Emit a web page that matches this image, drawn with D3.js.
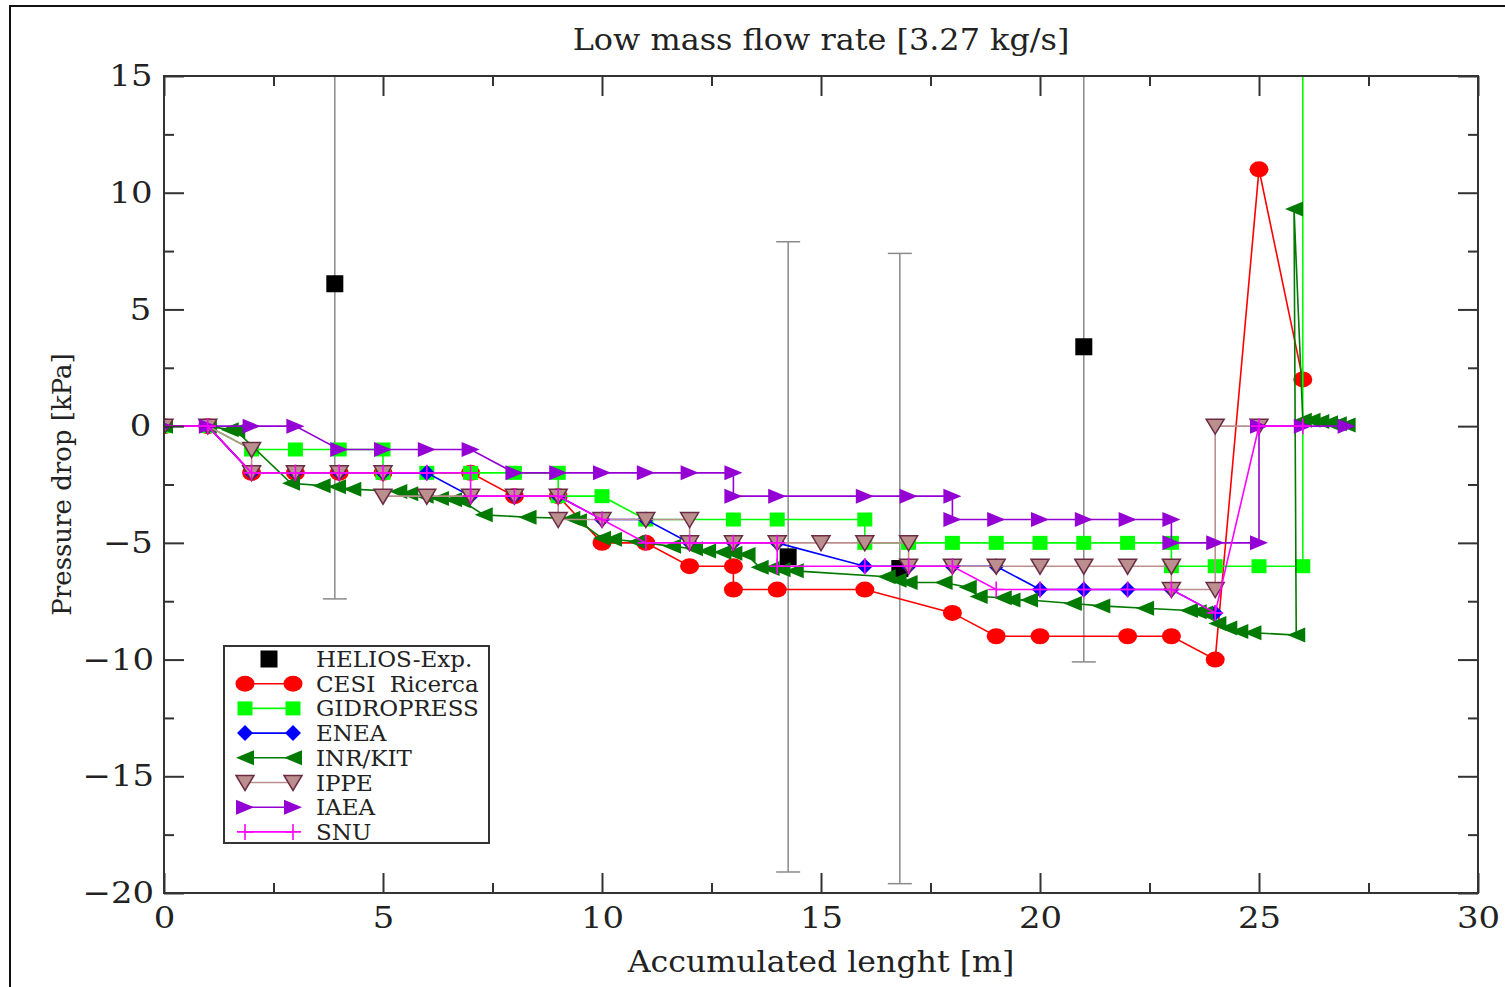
<!DOCTYPE html>
<meta charset="utf-8">
<title>Low mass flow rate</title>
<style>
  body { margin: 0; background: #fff; }
  text { font-family: "DejaVu Serif", serif; fill: #222; }
  .legend text { white-space: pre; }
</style>
<body>
<script src="https://cdn.jsdelivr.net/npm/d3@7"></script>
<script>
// experimental points and error bars
var heliosX = [3.9, 14.25, 16.8, 21.0];
var heliosY = [6.1, -5.6, -6.1, 3.4];
var heliosLow = [-7.4, -19.1, -19.6, -10.1];
var heliosHigh = [20, 7.9, 7.4, 20];

var cesi = [[0,0],[1,0],[2,-2],[3,-2],[4,-2],[5,-2],[7,-2],[8,-3],[9,-3],[10,-5],[11,-5],[12,-6],[13,-6],[13,-7],[14,-7],[16,-7],[18,-8],[19,-9],[20,-9],[22,-9],[23,-9],[24,-10],[25,11],[26,2]];

var gidropress = [[0,0],[1,0],[2,-1],[3,-1],[4,-1],[5,-1],[5,-2],[6,-2],[7,-2],[8,-2],[9,-2],[9,-3],[10,-3],[11,-4],[13,-4],[14,-4],[16,-4],[16,-5],[17,-5],[18,-5],[19,-5],[20,-5],[21,-5],[22,-5],[23,-5],[23,-6],[24,-6],[25,-6],[26,-6],[26,25]];

var enea = [[0,0],[1,0],[2,-2],[3,-2],[4,-2],[5,-2],[6,-2],[7,-3],[8,-3],[9,-3],[10,-4],[11,-4],[12,-5],[13,-5],[14,-5],[16,-6],[17,-6],[18,-6],[19,-6],[20,-7],[21,-7],[22,-7],[23,-7],[24,-8]];

var inrKit = [[0,0],[1,0],[1.5,-0.15],[1.65,-0.2],[2.9,-2.45],[3.6,-2.55],[3.95,-2.6],[4.3,-2.7],[5.35,-2.8],[5.6,-2.9],[5.95,-3.0],[6.3,-3.1],[6.6,-3.15],[6.8,-3.2],[7.3,-3.8],[8.3,-3.9],[9.3,-3.95],[9.45,-4.05],[10.0,-4.8],[10.25,-4.85],[10.8,-4.95],[11.6,-5.15],[12.1,-5.25],[12.4,-5.35],[12.75,-5.4],[13.0,-5.45],[13.3,-5.5],[13.6,-6.05],[13.85,-6.1],[14.1,-6.15],[14.4,-6.2],[16.5,-6.45],[16.75,-6.6],[17.0,-6.7],[17.8,-6.7],[18.35,-6.9],[18.6,-7.3],[19.15,-7.35],[19.35,-7.45],[19.75,-7.45],[20.75,-7.6],[21.4,-7.7],[22.4,-7.8],[23.4,-7.9],[23.6,-7.95],[23.75,-8.0],[24.05,-8.45],[24.3,-8.65],[24.55,-8.8],[24.85,-8.85],[25.85,-8.95],[25.8,9.3],[26.0,0.25],[26.2,0.25],[26.4,0.2],[26.6,0.15],[26.8,0.1],[27.0,0.05]];

var ippe = [[0,0],[1,0],[2,-1],[2,-2],[3,-2],[4,-2],[5,-2],[5,-3],[6,-3],[7,-3],[8,-3],[9,-3],[9,-4],[10,-4],[11,-4],[12,-4],[12,-5],[13,-5],[14,-5],[15,-5],[16,-5],[17,-5],[17,-6],[18,-6],[19,-6],[20,-6],[21,-6],[22,-6],[23,-6],[23,-7],[24,-7],[24,0],[25,0]];

var iaea = [[0,0],[1,0],[2,0],[3,0],[4,-1],[5,-1],[6,-1],[7,-1],[8,-2],[9,-2],[10,-2],[11,-2],[12,-2],[13,-2],[13,-3],[14,-3],[16,-3],[17,-3],[18,-3],[18,-4],[19,-4],[20,-4],[21,-4],[22,-4],[23,-4],[23,-5],[24,-5],[25,-5],[25,0],[26,0],[27,0]];

var snu = [[0,0],[1,0],[2,-2],[3,-2],[4,-2],[5,-2],[6,-2],[7,-2],[7,-3],[8,-3],[9,-3],[10,-4],[11,-5],[12,-5],[13,-5],[14,-5],[14,-6],[16,-6],[17,-6],[18,-6],[19,-7],[20,-7],[21,-7],[22,-7],[23,-7],[24,-8],[25,0],[26,0]];

var xTicks = [0, 5, 10, 15, 20, 25, 30];
var yTicks = [-20, -15, -10, -5, 0, 5, 10, 15];

var W = 1505, H = 987;
var pL = 164, pR = 1478, pT = 76, pB = 893;

var svg = d3.select("body").append("svg")
  .attr("width", W)
  .attr("height", H);

// outer frame of the figure
svg.append("path")
  .attr("d", "M10," + H + "V6H" + W)
  .attr("fill", "none")
  .attr("stroke", "#111")
  .attr("stroke-width", 2);

var x = d3.scaleLinear().domain([0, 30]).range([pL, pR]);
var y = d3.scaleLinear().domain([-20, 15]).range([pB, pT]);

svg.append("clipPath").attr("id", "plot")
  .append("rect")
  .attr("x", pL).attr("y", pT)
  .attr("width", pR - pL).attr("height", pB - pT);

// marker shapes
function circle(g, c) {
  g.append("ellipse").attr("rx", 9.5).attr("ry", 8).attr("fill", c);
}
function square(g, c) {
  g.append("rect").attr("x", -7.5).attr("y", -7).attr("width", 15).attr("height", 14).attr("fill", c);
}
function diamond(g, c) {
  g.append("path").attr("d", "M0,-8L8,0L0,8L-8,0Z").attr("fill", c);
}
function triLeft(g, c) {
  g.append("path").attr("d", "M-9,0L9,-7.5L9,7.5Z").attr("fill", c);
}
function triRight(g, c) {
  g.append("path").attr("d", "M9,0L-9,-7.5L-9,7.5Z").attr("fill", c);
}
function triDown(g, c) {
  g.append("path").attr("d", "M-9,-7L9,-7L0,8Z").attr("fill", c)
    .attr("stroke", "#6a2c44").attr("stroke-width", 1.5);
}
function plus(g, c) {
  g.append("path").attr("d", "M-8,0H8M0,-8V8").attr("stroke", c).attr("stroke-width", 1.6);
}
function blackSquare(g) {
  g.append("rect").attr("x", -8.5).attr("y", -8.5).attr("width", 17).attr("height", 17).attr("fill", "#000");
}

var series = [
  {name: "CESI  Ricerca", data: cesi, color: "#ff0000", mark: circle},
  {name: "GIDROPRESS", data: gidropress, color: "#00ff00", mark: square},
  {name: "ENEA", data: enea, color: "#0000ff", mark: diamond},
  {name: "INR/KIT", data: inrKit, color: "#007a00", mark: triLeft},
  {name: "IPPE", data: ippe, color: "#bc8f8f", mark: triDown},
  {name: "IAEA", data: iaea, color: "#9400d3", mark: triRight},
  {name: "SNU", data: snu, color: "#ff00ff", mark: plus}
];

var plot = svg.append("g").attr("clip-path", "url(#plot)");

// error bars of the experiment
heliosX.forEach(function(d, i) {
  var eb = plot.append("g").attr("stroke", "#8a8a8a").attr("stroke-width", 1.5);
  eb.append("line")
    .attr("x1", x(d)).attr("x2", x(d))
    .attr("y1", y(heliosLow[i])).attr("y2", y(heliosHigh[i]));
  [heliosLow[i], heliosHigh[i]].forEach(function(v) {
    eb.append("line")
      .attr("x1", x(d) - 12).attr("x2", x(d) + 12)
      .attr("y1", y(v)).attr("y2", y(v));
  });
});

heliosX.forEach(function(d, i) {
  var g = plot.append("g").attr("transform", "translate(" + x(d) + "," + y(heliosY[i]) + ")");
  blackSquare(g);
});

var line = d3.line()
  .x(function(d) { return x(d[0]); })
  .y(function(d) { return y(d[1]); });

series.forEach(function(s) {
  var g = plot.append("g");
  g.append("path")
    .attr("d", line(s.data))
    .attr("fill", "none")
    .attr("stroke", s.color)
    .attr("stroke-width", 1.6);
  s.data.forEach(function(p) {
    var m = g.append("g").attr("transform", "translate(" + x(p[0]) + "," + y(p[1]) + ")");
    s.mark(m, s.color);
  });
});

// axes with inward ticks
var fmt = d3.format("d");
function styleAxis(g) {
  g.select(".domain").remove();
  g.selectAll("line").attr("stroke", "#333").attr("stroke-width", 2);
  g.selectAll("text")
    .attr("font-family", "DejaVu Serif").attr("font-size", 30).attr("fill", "#222");
}
// the reference lettering is a bit wider than DejaVu Serif
function widen(g) {
  g.selectAll(".tick text").each(function() {
    var t = d3.select(this);
    var a = t.attr("text-anchor") || "middle";
    t.style("transform-box", "fill-box")
     .style("transform-origin", a === "end" ? "right center" : "center")
     .style("transform", "scaleX(1.13)");
  });
}

svg.append("g").attr("transform", "translate(0," + pB + ")")
  .call(d3.axisBottom(x).tickValues(xTicks).tickFormat(fmt).tickSizeInner(-20).tickSizeOuter(0).tickPadding(14))
  .call(styleAxis).call(widen);
svg.append("g").attr("transform", "translate(0," + pB + ")")
  .call(d3.axisBottom(x).tickValues(d3.range(2.5, 30, 5)).tickFormat("").tickSizeInner(-10).tickSizeOuter(0))
  .call(styleAxis);
svg.append("g").attr("transform", "translate(0," + pT + ")")
  .call(d3.axisTop(x).tickValues(xTicks).tickFormat("").tickSizeInner(-20).tickSizeOuter(0))
  .call(styleAxis);
svg.append("g").attr("transform", "translate(0," + pT + ")")
  .call(d3.axisTop(x).tickValues(d3.range(2.5, 30, 5)).tickFormat("").tickSizeInner(-10).tickSizeOuter(0))
  .call(styleAxis);

svg.append("g").attr("transform", "translate(" + pL + ",0)")
  .call(d3.axisLeft(y).tickValues(yTicks).tickFormat(fmt).tickSizeInner(-20).tickSizeOuter(0).tickPadding(14))
  .call(styleAxis).call(widen);
svg.append("g").attr("transform", "translate(" + pL + ",0)")
  .call(d3.axisLeft(y).tickValues(d3.range(-17.5, 15, 5)).tickFormat("").tickSizeInner(-10).tickSizeOuter(0))
  .call(styleAxis);
svg.append("g").attr("transform", "translate(" + pR + ",0)")
  .call(d3.axisRight(y).tickValues(yTicks).tickFormat("").tickSizeInner(-20).tickSizeOuter(0))
  .call(styleAxis);
svg.append("g").attr("transform", "translate(" + pR + ",0)")
  .call(d3.axisRight(y).tickValues(d3.range(-17.5, 15, 5)).tickFormat("").tickSizeInner(-10).tickSizeOuter(0))
  .call(styleAxis);

svg.append("rect")
  .attr("x", pL).attr("y", pT)
  .attr("width", pR - pL).attr("height", pB - pT)
  .attr("fill", "none").attr("stroke", "#333").attr("stroke-width", 2);

// titles
svg.append("text")
  .attr("transform", "translate(" + (pL + pR) / 2 + ",50) scale(1.1,1)")
  .attr("text-anchor", "middle").attr("font-size", 29)
  .text("Low mass flow rate [3.27 kg/s]");

svg.append("text")
  .attr("transform", "translate(" + (pL + pR) / 2 + ",972) scale(1.09,1)")
  .attr("text-anchor", "middle").attr("font-size", 29)
  .text("Accumulated lenght [m]");

svg.append("text")
  .attr("transform", "translate(71," + (pT + pB) / 2 + ") rotate(-90)")
  .attr("text-anchor", "middle").attr("font-size", 26)
  .text("Pressure drop [kPa]");

// legend
var legend = svg.append("g").attr("class", "legend");
legend.append("rect")
  .attr("x", 224).attr("y", 646).attr("width", 265).attr("height", 197)
  .attr("fill", "#fff").attr("stroke", "#333").attr("stroke-width", 2);

var rowY = function(i) { return 659 + i * 24.7; };
var l0 = legend.append("g").attr("transform", "translate(269," + rowY(0) + ")");
blackSquare(l0);
legend.append("text").attr("x", 316).attr("y", rowY(0) + 8).attr("font-size", 23).text("HELIOS-Exp.");

series.forEach(function(s, i) {
  var yy = rowY(i + 1);
  legend.append("line")
    .attr("x1", 245).attr("x2", 293).attr("y1", yy).attr("y2", yy)
    .attr("stroke", s.color).attr("stroke-width", 1.6);
  [245, 293].forEach(function(xx) {
    var m = legend.append("g").attr("transform", "translate(" + xx + "," + yy + ")");
    s.mark(m, s.color);
  });
  legend.append("text").attr("x", 316).attr("y", yy + 8).attr("font-size", 23).text(s.name);
});
</script>
</body>
